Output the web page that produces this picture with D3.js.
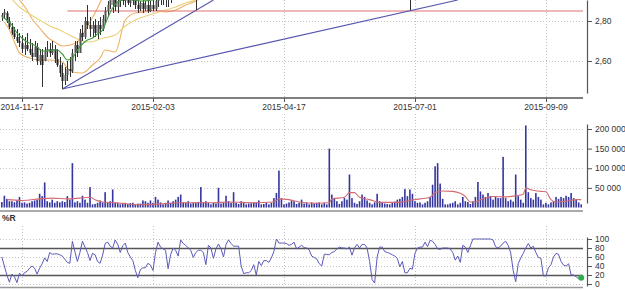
<!DOCTYPE html>
<html><head><meta charset="utf-8">
<script src="https://cdn.jsdelivr.net/npm/d3@7"></script>
<style>body{margin:0;background:#fff}svg{display:block}text{font-family:"Liberation Sans",Arial,sans-serif}</style>
</head><body><svg id="c" width="625" height="290"></svg>
<script>
// ---------- data ----------
const tickLabels = ["2014-11-17","2015-02-03","2015-04-17","2015-07-01","2015-09-09"];
const tickIndex = [8,60,112,164,216];
const barCount = 231;

const candleIndex = [0,1,2,3,4,5,6,7,8,9,10,11,12,13,14,15,16,17,18,19,20,21,22,23,24,25,26,27,28,29,30,31,32,33,34,35,36,37,38,39,40,41,42,43,44,45,46,47,48,49,50,51,52,53,54,55,56,57,58,59,60,61,62,63,64,65,66,67,68,77,162];
const candleOpen  = [2.82,2.83,2.84,2.80,2.77,2.74,2.72,2.70,2.69,2.66,2.68,2.66,2.64,2.62,2.67,2.60,2.63,2.60,2.65,2.66,2.64,2.66,2.61,2.58,2.54,2.50,2.53,2.56,2.55,2.64,2.68,2.64,2.74,2.72,2.80,2.78,2.76,2.78,2.74,2.78,2.76,2.81,2.85,2.88,2.88,2.91,2.87,2.90,2.92,2.90,2.92,2.89,2.91,2.90,2.88,2.86,2.89,2.86,2.88,2.85,2.88,2.86,2.90,2.92,2.94,2.91,2.93,2.95,2.96,2.97,2.97];
const candleHigh  = [2.84,2.86,2.85,2.82,2.79,2.77,2.76,2.74,2.73,2.72,2.74,2.71,2.69,2.70,2.69,2.66,2.66,2.67,2.70,2.69,2.70,2.68,2.66,2.62,2.59,2.57,2.60,2.62,2.66,2.70,2.70,2.76,2.78,2.82,2.88,2.82,2.80,2.81,2.80,2.82,2.83,2.87,2.90,2.93,2.93,2.94,2.93,2.95,2.95,2.94,2.95,2.93,2.94,2.93,2.91,2.90,2.91,2.90,2.91,2.90,2.92,2.91,2.94,2.95,2.96,2.95,2.96,2.98,2.98,3.00,3.00];
const candleLow   = [2.80,2.81,2.79,2.76,2.73,2.71,2.69,2.67,2.64,2.63,2.65,2.63,2.60,2.62,2.58,2.58,2.47,2.60,2.62,2.62,2.63,2.59,2.57,2.52,2.46,2.48,2.50,2.52,2.54,2.60,2.62,2.64,2.70,2.71,2.76,2.72,2.72,2.72,2.71,2.73,2.75,2.79,2.82,2.86,2.84,2.85,2.84,2.87,2.88,2.87,2.88,2.87,2.88,2.86,2.84,2.85,2.84,2.85,2.84,2.845,2.85,2.85,2.87,2.88,2.88,2.87,2.87,2.89,2.92,2.855,2.855];
const candleClose = [2.83,2.845,2.80,2.77,2.74,2.72,2.70,2.69,2.66,2.68,2.66,2.64,2.62,2.67,2.60,2.63,2.58,2.65,2.66,2.64,2.66,2.61,2.58,2.54,2.50,2.53,2.56,2.55,2.64,2.68,2.64,2.74,2.72,2.80,2.78,2.76,2.78,2.74,2.78,2.76,2.81,2.85,2.88,2.91,2.91,2.87,2.90,2.92,2.90,2.92,2.89,2.91,2.90,2.88,2.86,2.89,2.86,2.88,2.85,2.88,2.86,2.90,2.92,2.94,2.91,2.93,2.95,2.96,2.97,2.98,2.98];

// moving averages / bands: [bar index, price]
const shortMA = [[0,2.82],[2,2.805],[4,2.78],[6,2.74],[8,2.715],[10,2.695],[12,2.685],[14,2.67],[16,2.65],[18,2.65],[20,2.655],[22,2.655],[24,2.635],[26,2.605],[28,2.615],[30,2.655],[32,2.685],[34,2.705],[36,2.715],[38,2.735],[40,2.755],[42,2.815],[44,2.865],[46,2.895],[50,2.91],[55,2.90],[60,2.905],[65,2.92],[70,2.935]];
const longMA = [[2,2.945],[4,2.91],[7,2.87],[11,2.835],[15,2.805],[19,2.775],[23,2.755],[26,2.735],[30,2.71],[34,2.695],[37,2.70],[39,2.71],[45,2.73],[49,2.775],[53,2.805],[61,2.84],[69,2.87],[73,2.89],[77,2.905],[82,2.925]];
const bandUpper = [[5,2.935],[7,2.905],[10,2.855],[12,2.81],[15,2.765],[18,2.72],[21,2.695],[24,2.675],[27,2.68],[30,2.695],[32,2.73],[35,2.795],[38,2.865],[40,2.92]];
const bandLower = [[1,2.795],[3,2.755],[5,2.695],[7,2.64],[11,2.615],[15,2.605],[19,2.605],[24,2.595],[26,2.565],[28,2.545],[32,2.54],[36,2.58],[39,2.615],[41,2.655],[45,2.645],[49,2.805],[53,2.84],[57,2.845],[61,2.855],[65,2.845],[69,2.855],[73,2.88],[77,2.90],[80,2.925]];
const resistanceLevel = 2.85;
const resistanceFrom = 26;
const trendOrigin = [24, 2.46];
const trendTargets = [[84, 2.905],[181, 2.905]];

const volume = [14000,30000,22000,16000,16000,13500,18000,27000,12000,13000,
10000,12000,16000,18000,20000,35000,29000,64000,16000,13000,
20000,12000,16000,13000,16000,14000,29000,20000,113000,13000,
16000,12000,30000,20000,12000,52000,8000,9000,12000,18000,
13000,39000,12000,16000,46000,12000,12000,8000,10000,12000,
9000,11000,12000,8000,10000,10000,18000,16000,12000,18000,
12000,27000,20000,13000,8000,12000,18000,12000,16000,20000,
27000,33000,13000,12000,16000,10000,12000,12000,14000,52000,
13000,16000,12000,8000,12000,10000,50000,10000,12000,30000,
16000,12000,39000,12000,9000,16000,12000,8000,10000,11000,
13000,12000,18000,8000,9000,12000,8000,12000,24000,37000,
94000,24000,8000,10000,13000,18000,16000,9000,12000,20000,
10000,13000,8000,13000,10000,12000,13000,8000,12000,8000,
150000,33000,22000,16000,9000,16000,24000,20000,84000,24000,
12000,9000,16000,33000,27000,18000,12000,8000,13000,35000,
16000,12000,10000,9000,8000,12000,15000,20000,22000,27000,
47000,29000,46000,35000,16000,12000,13000,8000,12000,16000,
27000,58000,105000,113000,61000,22000,8000,8000,10000,12000,
16000,8000,12000,27000,16000,14000,9000,16000,27000,65000,
41000,33000,27000,37000,29000,20000,27000,24000,24000,129000,
24000,16000,20000,15000,84000,29000,20000,12000,209000,39000,
24000,20000,37000,27000,20000,8000,12000,8000,13000,16000,
27000,22000,27000,24000,30000,27000,37000,24000,20000,13000,
8000];
const volumeMA = [[2,20000],[8,18000],[15,22000],[20,24000],[26,22000],[31,24000],[35,26000],[37,20000],[40,14000],[45,12000],[50,9000],[55,7000],[60,8000],[65,10000],[70,12000],[78,12000],[84,12000],[90,14000],[100,12000],[108,14000],[110,22000],[114,20000],[118,14000],[125,11000],[130,12000],[131,22000],[136,26000],[138,38000],[140,38000],[142,26000],[146,20000],[150,13000],[158,13000],[162,18000],[166,22000],[170,26000],[172,38000],[175,42000],[179,41000],[182,36000],[184,28000],[186,14000],[188,14000],[190,20000],[195,28000],[200,27000],[204,30000],[207,34000],[208,50000],[210,45000],[214,41000],[216,40000],[218,20000],[220,14000],[224,16000],[228,20000],[230,20000]];

const williamsR = [60,40,20,4,22,16,3,24,18,25,
28,35,40,35,22,35,45,58,50,70,
66,67,67,65,62,55,48,46,95,72,
50,70,95,82,70,52,68,65,50,46,
64,90,93,84,80,98,88,70,85,91,
70,60,52,30,14,32,36,36,46,42,
30,70,93,82,78,75,34,65,80,75,
62,98,90,86,80,75,59,70,75,75,
70,43,86,80,57,78,89,78,60,88,
98,90,84,84,84,40,23,25,25,30,
43,20,50,41,52,52,48,58,72,100,
91,91,91,90,86,88,93,78,82,86,
81,80,76,62,59,56,45,40,66,66,
65,70,72,78,82,80,80,78,82,64,
80,88,80,88,88,80,50,10,2,60,
82,82,72,70,68,65,62,57,38,50,
25,25,35,33,68,80,82,82,93,83,
97,95,88,78,77,80,80,80,78,70,
53,62,48,86,82,70,85,100,100,100,
100,100,100,100,100,98,83,80,84,91,
95,86,70,30,5,45,58,68,80,90,
80,84,70,59,57,18,18,36,43,60,
68,66,50,42,40,45,20,20,16,12,
14];

const priceTicks = [2.60, 2.80];
const volumeTicks = [50000, 100000, 150000, 200000];
const rTicks = [0, 20, 40, 60, 80, 100];
const rGrid = [0, 40, 60, 100];
const rBands = [20, 80];

// ---------- layout ----------
const svg = d3.select("#c");
const plotLeft = 0, plotRight = 583, axisX = 587;
const locale = d3.formatLocale({decimal: ",", thousands: "\u00a0", grouping: [3], currency: ["", ""]});

const x = d3.scaleLinear().domain([0, barCount - 1]).range([1.85, 581.2]);
const yP = d3.scaleLinear().domain([2.44, 2.905]).range([93, 0]);
const yV = d3.scaleLinear().domain([0, 200000]).range([207.5, 129]);
const yR = d3.scaleLinear().domain([0, 100]).range([284, 239]);

const gridStyle = sel => sel.attr("stroke", "#c4c4c4").attr("stroke-width", 1).attr("stroke-dasharray", "1,2").attr("fill", "none");

svg.append("defs").append("clipPath").attr("id", "pclip").append("rect")
  .attr("x", 0).attr("y", 0).attr("width", plotRight).attr("height", 96);

// ---------- grids ----------
const grid = svg.append("g");
[[0, 97], [114, 208], [226, 286]].forEach(([a, b]) => {
  grid.selectAll(null).data(tickIndex).join("line")
    .attr("x1", d => Math.round(x(d)) + 0.5).attr("x2", d => Math.round(x(d)) + 0.5)
    .attr("y1", a).attr("y2", b).call(gridStyle);
});
grid.selectAll(null).data(priceTicks).join("line")
  .attr("x1", plotLeft).attr("x2", plotRight).attr("y1", d => Math.round(yP(d)) + 0.5).attr("y2", d => Math.round(yP(d)) + 0.5).call(gridStyle);
grid.selectAll(null).data(volumeTicks).join("line")
  .attr("x1", plotLeft).attr("x2", plotRight).attr("y1", d => Math.round(yV(d)) + 0.5).attr("y2", d => Math.round(yV(d)) + 0.5).call(gridStyle);
grid.selectAll(null).data(rGrid).join("line")
  .attr("x1", plotLeft).attr("x2", plotRight).attr("y1", d => Math.round(yR(d)) + 0.5).attr("y2", d => Math.round(yR(d)) + 0.5).call(gridStyle);

// ---------- price panel ----------
const pg = svg.append("g").attr("clip-path", "url(#pclip)");
const pline = d3.line().x(d => x(d[0])).y(d => yP(d[1])).curve(d3.curveMonotoneX);

pg.append("path").datum(bandUpper).attr("d", pline).attr("fill", "none").attr("stroke", "#eeb066").attr("stroke-width", 1.1);
pg.append("path").datum(bandLower).attr("d", pline).attr("fill", "none").attr("stroke", "#eeb066").attr("stroke-width", 1.1);
pg.append("path").datum(longMA).attr("d", pline).attr("fill", "none").attr("stroke", "#ead27a").attr("stroke-width", 1.1);

pg.append("line").attr("x1", x(resistanceFrom)).attr("x2", axisX - 1)
  .attr("y1", yP(resistanceLevel)).attr("y2", yP(resistanceLevel))
  .attr("stroke", "#e07070").attr("stroke-width", 1);

pg.selectAll(null).data(trendTargets).join("line")
  .attr("x1", x(trendOrigin[0])).attr("y1", yP(trendOrigin[1]))
  .attr("x2", d => x(d[0])).attr("y2", d => yP(d[1]))
  .attr("stroke", "#5555b0").attr("stroke-width", 1.1);

const candles = candleIndex.map((d, k) => ({i: d, o: candleOpen[k], h: candleHigh[k], l: candleLow[k], c: candleClose[k]}));
pg.selectAll(null).data(candles).join("line")
  .attr("x1", d => Math.round(x(d.i)) + 0.5).attr("x2", d => Math.round(x(d.i)) + 0.5)
  .attr("y1", d => yP(d.h)).attr("y2", d => yP(d.l))
  .attr("stroke", "#333").attr("stroke-width", 1);
pg.selectAll(null).data(candles).join("rect")
  .attr("x", d => Math.round(x(d.i)) - 0.5).attr("width", 2)
  .attr("y", d => yP(Math.max(d.o, d.c))).attr("height", d => Math.max(1, Math.abs(yP(d.o) - yP(d.c))))
  .attr("fill", d => d.c >= d.o ? "#555" : "#222");

pg.append("path").datum(shortMA).attr("d", pline).attr("fill", "none").attr("stroke", "#3c9a3c").attr("stroke-width", 1.1);

// price axes
svg.append("line").attr("x1", plotLeft).attr("x2", plotRight).attr("y1", 98).attr("y2", 98).attr("stroke", "#555").attr("stroke-width", 1.5);
const xAxis = svg.append("g").attr("transform", "translate(0,98)")
  .call(d3.axisBottom(x).tickValues(tickIndex).tickFormat((d, k) => tickLabels[k]).tickSize(4).tickSizeOuter(0).tickPadding(2));
xAxis.select(".domain").remove();
xAxis.selectAll("line").attr("stroke", "#555").attr("x1", 0.5).attr("x2", 0.5);
xAxis.selectAll(".tick").attr("transform", d => `translate(${Math.round(x(d))},0)`);
xAxis.selectAll("text").attr("fill", "#333").attr("font-size", 8.5).attr("font-family", "Liberation Sans, Arial");

function styleY(g) {
  g.select(".domain").attr("stroke", "#555").attr("stroke-width", 1.2);
  g.selectAll(".tick line").attr("stroke", "#555");
  g.selectAll("text").attr("fill", "#333").attr("font-size", 8.5).attr("font-family", "Liberation Sans, Arial");
}
svg.append("g").attr("transform", `translate(${axisX},0)`)
  .call(d3.axisRight(yP).tickValues(priceTicks).tickFormat(locale.format(",.2f")).tickSize(5).tickSizeOuter(0).tickPadding(3))
  .call(styleY);

// ---------- volume panel ----------
const vg = svg.append("g");
vg.selectAll(null).data(volume).join("rect")
  .attr("x", (d, i) => x(i) - 0.8).attr("width", 1.6)
  .attr("y", d => yV(d)).attr("height", d => yV(0) - yV(d))
  .attr("fill", "#35359e");
vg.append("path").datum(volumeMA)
  .attr("d", d3.line().x(d => x(d[0])).y(d => yV(d[1])).curve(d3.curveMonotoneX))
  .attr("fill", "none").attr("stroke", "#d46a72").attr("stroke-width", 1.1);
svg.append("line").attr("x1", plotLeft).attr("x2", plotRight).attr("y1", 211).attr("y2", 211).attr("stroke", "#aaa").attr("stroke-width", 2);
const yVaxis = d3.scaleLinear().domain([yV.invert(203), yV.invert(124)]).range([203, 124]);
svg.append("g").attr("transform", `translate(${axisX},0)`)
  .call(d3.axisRight(yVaxis).tickValues(volumeTicks).tickFormat(locale.format(",d")).tickSize(5).tickSizeOuter(0).tickPadding(3))
  .call(styleY);

// ---------- %R panel ----------
svg.append("text").attr("x", 2).attr("y", 221).text("%R")
  .attr("font-size", 8.5).attr("font-weight", "bold").attr("fill", "#333");
svg.selectAll(null).data(rBands).join("line")
  .attr("x1", plotLeft).attr("x2", plotRight).attr("y1", d => Math.round(yR(d)) + 0.5).attr("y2", d => Math.round(yR(d)) + 0.5)
  .attr("stroke", "#555").attr("stroke-width", 1.3);
svg.append("path").datum(williamsR)
  .attr("d", d3.line().x((d, i) => x(i)).y(d => yR(d)))
  .attr("fill", "none").attr("stroke", "#5a5ab8").attr("stroke-width", 1);
svg.append("circle").attr("cx", x(barCount - 1)).attr("cy", yR(williamsR[barCount - 1])).attr("r", 3)
  .attr("fill", "#2fae4a");
svg.append("line").attr("x1", plotLeft).attr("x2", plotRight).attr("y1", 287.5).attr("y2", 287.5).attr("stroke", "#999").attr("stroke-width", 1.5);
const yRaxis = d3.scaleLinear().domain([yR.invert(286), yR.invert(237)]).range([286, 237]);
svg.append("g").attr("transform", `translate(${axisX},0)`)
  .call(d3.axisRight(yRaxis).tickValues(rTicks).tickFormat(d3.format("d")).tickSize(5).tickSizeOuter(0).tickPadding(3))
  .call(styleY);
</script></body></html>
